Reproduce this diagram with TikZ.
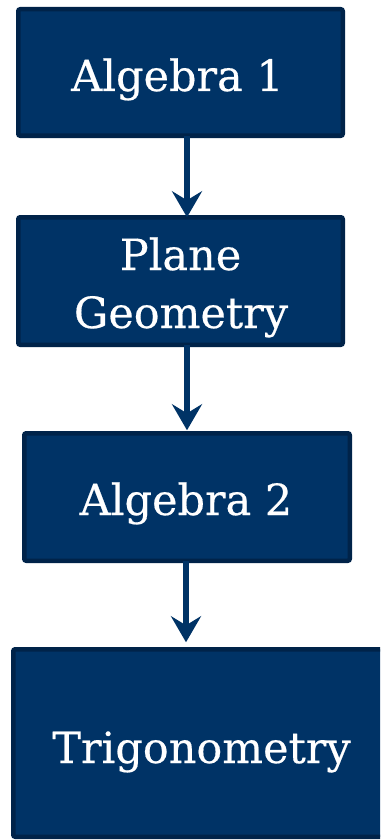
\documentclass[tikz,border=0pt]{standalone}
\usepackage{fontspec}
\setmainfont{DejaVu Serif}[FakeBold=0.4]
\usetikzlibrary{arrows.meta}
\definecolor{boxfill}{HTML}{003366}
\definecolor{boxline}{HTML}{002349}
\definecolor{arrowc}{HTML}{003366}
\tikzset{
  box/.style={draw=boxline, fill=boxfill, line width=4.5pt, rounded corners=2pt,
    inner sep=0pt, outer sep=0pt},
  lbl/.style={text=white, font=\fontsize{43}{58}\selectfont, inner sep=0pt, anchor=base},
  arr/.style={draw=arrowc, line width=5.5pt,
    -{Stealth[length=26pt, width=30pt, inset=9pt]}}
}
\begin{document}
\begin{tikzpicture}[x=1pt, y=-1pt]
\useasboundingbox (0,0) rectangle (380,840);
\clip (0,0) rectangle (380,840);
\node[box, minimum width=324.5pt, minimum height=126.5pt] (a) at (180.5,72.5) {};
\node[box, minimum width=324.5pt, minimum height=127.5pt] (b) at (180.5,281) {};
\node[box, minimum width=325.5pt, minimum height=127.5pt] (c) at (187,497) {};
\node[box, minimum width=369.5pt, minimum height=187.5pt] (d) at (198,743) {};
\node[lbl] (ta) at ([xshift=-3pt, yshift=-18.5pt]a.center) {Algebra 1};
\node[lbl] (tb1) at ([xshift=0pt, yshift=11pt]b.center) {Plane};
\node[lbl] (tb2) at ([xshift=0.5pt, yshift=-47pt]b.center) {Geometry};
\node[lbl] (tc) at ([xshift=-1pt, yshift=-18pt]c.center) {Algebra 2};
\node[lbl] (td) at ([xshift=3.5pt, yshift=-20pt]d.center) {Trigonometry};
\draw[arr] ([xshift=6.5pt]a.south) -- ([xshift=6.5pt]b.north);
\draw[arr] ([xshift=6.5pt]b.south) -- ([xshift=6.5pt, yshift=3pt]b.south |- c.north);
\draw[arr] ([xshift=-1pt]c.south) -- ([xshift=-1pt, yshift=7pt]c.south |- d.north);
\end{tikzpicture}
\end{document}
